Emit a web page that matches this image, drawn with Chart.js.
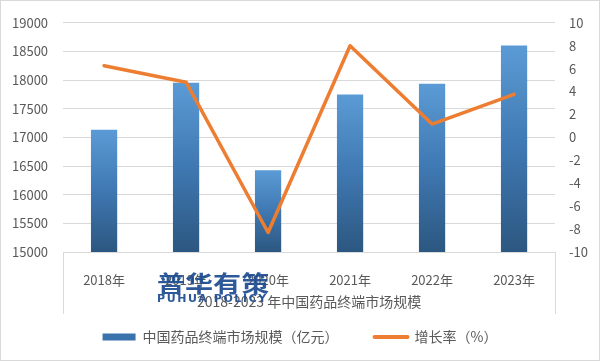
<!DOCTYPE html>
<html>
<head>
<meta charset="utf-8">
<script src="https://cdn.jsdelivr.net/npm/chart.js@4/dist/chart.umd.min.js"></script>
<style>
  html, body { margin: 0; padding: 0; background: #fff; }
  #wrap { width: 600px; height: 361px; position: relative; }
</style>
</head>
<body>
<div id="wrap"><canvas id="c" width="600" height="361"></canvas></div>
<script>
const categories = ['2018年', '2019年', '2020年', '2021年', '2022年', '2023年'];
const marketSize = [17134, 17953, 16425, 17747, 17936, 18605];
const growthRate = [6.25, 4.82, -8.3, 8.0, 1.16, 3.75];
const leftTicks = [15000, 15500, 16000, 16500, 17000, 17500, 18000, 18500, 19000];
const rightTicks = [-10, -8, -6, -4, -2, 0, 2, 4, 6, 8, 10];
const chartTitle = '2018-2023 年中国药品终端市场规模';
const sizeLabel = '中国药品终端市场规模（亿元）';
const rateLabel = '增长率（%）';

const FONT = '"Noto Sans CJK SC", "Noto Sans", sans-serif';
const GRID = '#d9d9d9';
const TXT = '#595959';

function barGradient(ctx) {
  const chart = ctx.chart;
  const ys = chart.scales && chart.scales.y;
  if (!chart.chartArea || !ys || ctx.dataIndex === undefined) return '#4a86c5';
  const top = ys.getPixelForValue(ctx.raw);
  const bottom = ys.getPixelForValue(ys.min);
  const g = chart.ctx.createLinearGradient(0, top, 0, bottom);
  g.addColorStop(0, '#5B9BD5');
  g.addColorStop(0.5, '#3f78b2');
  g.addColorStop(1, '#2c5780');
  return g;
}

const decor = {
  id: 'decor',
  beforeDraw(chart) {
    const c = chart.ctx;
    c.save();
    c.fillStyle = '#fff';
    c.fillRect(0, 0, chart.width, chart.height);
    c.restore();
  },
  afterDraw(chart) {
    const c = chart.ctx;
    const xs = chart.scales.x;
    const bottom = chart.chartArea.bottom;
    // long outer tick marks at both ends of the category axis
    c.save();
    c.strokeStyle = GRID;
    c.lineWidth = 1;
    c.beginPath();
    [xs.left, xs.right].forEach(px => {
      const x = Math.round(px) + 0.5;
      c.moveTo(x, bottom);
      c.lineTo(x, bottom + 62);
    });
    c.stroke();
    c.restore();
    // watermark logo
    c.save();
    c.globalAlpha = 0.93;
    c.fillStyle = '#1d4c91';
    c.font = 'bold 23px ' + FONT;
    c.textBaseline = 'alphabetic';
    c.translate(157, 292);
    c.scale(1.22, 1);
    ['普', '华', '有', '策'].forEach((ch, i) => c.fillText(ch, i * 23, 0));
    c.restore();
    c.save();
    c.globalAlpha = 0.93;
    c.fillStyle = '#1d4c91';
    c.font = 'bold 11px "DejaVu Sans", sans-serif';
    c.letterSpacing = '1.6px';
    c.textBaseline = 'alphabetic';
    c.fillText('PUHUA POLICY', 157, 302);
    c.restore();
    // outer border
    c.save();
    c.strokeStyle = GRID;
    c.lineWidth = 1;
    c.strokeRect(0.5, 0.5, chart.width - 1, chart.height - 1);
    c.restore();
  }
};

new Chart(document.getElementById('c'), {
  data: {
    labels: categories,
    datasets: [
      {
        type: 'line',
        label: rateLabel,
        data: growthRate,
        yAxisID: 'y1',
        borderColor: '#ED7D31',
        backgroundColor: '#ED7D31',
        borderWidth: 3.5,
        pointRadius: 0,
        pointHoverRadius: 0,
        tension: 0,
        borderCapStyle: 'round',
        borderJoinStyle: 'round',
        order: 0
      },
      {
        type: 'bar',
        label: sizeLabel,
        data: marketSize,
        yAxisID: 'y',
        backgroundColor: barGradient,
        borderWidth: 0,
        categoryPercentage: 1,
        barPercentage: 0.32,
        order: 1
      }
    ]
  },
  options: {
    responsive: false,
    animation: false,
    layout: { padding: { left: 12, right: 12, top: 1, bottom: 7 } },
    plugins: {
      tooltip: { enabled: false },
      legend: {
        position: 'bottom',
        labels: {
          font: { family: FONT, size: 14 },
          color: TXT,
          usePointStyle: true,
          pointStyleWidth: 33,
          boxHeight: 7,
          padding: 36,
          generateLabels() {
            return [
              { text: sizeLabel, pointStyle: 'rect', fillStyle: '#3a72ac', strokeStyle: '#3a72ac', lineWidth: 0, datasetIndex: 1, fontColor: TXT },
              { text: rateLabel, pointStyle: 'line', fillStyle: '#ED7D31', strokeStyle: '#ED7D31', lineWidth: 4, lineCap: 'round', datasetIndex: 0, fontColor: TXT }
            ];
          }
        }
      }
    },
    scales: {
      x: {
        type: 'category',
        offset: true,
        grid: { display: false },
        border: { display: true, color: GRID },
        ticks: { font: { family: FONT, size: 13 }, color: TXT, padding: 12, maxRotation: 0, autoSkip: false },
        title: {
          display: true,
          text: chartTitle,
          font: { family: FONT, size: 14 },
          color: TXT,
          padding: { top: 2, bottom: -16 }
        },
        afterFit(scale) { scale.height = 42; }
      },
      y: {
        position: 'left',
        min: 15000,
        max: 19000,
        afterBuildTicks(scale) { scale.ticks = leftTicks.map(v => ({ value: v })); },
        afterFit(scale) { scale.width -= 15; },
        grid: { color: GRID, drawTicks: false },
        border: { display: false },
        ticks: { font: { family: FONT, size: 13 }, color: TXT, padding: 15, callback: (v) => String(v) }
      },
      y1: {
        position: 'right',
        min: -10,
        max: 10,
        afterBuildTicks(scale) { scale.ticks = rightTicks.map(v => ({ value: v })); },
        afterFit(scale) { scale.width -= 14; },
        grid: { drawOnChartArea: false, drawTicks: false },
        border: { display: false },
        ticks: { font: { family: FONT, size: 13 }, color: TXT, padding: 14, callback: (v) => String(v) }
      }
    }
  },
  plugins: [decor]
});
</script>
</body>
</html>
